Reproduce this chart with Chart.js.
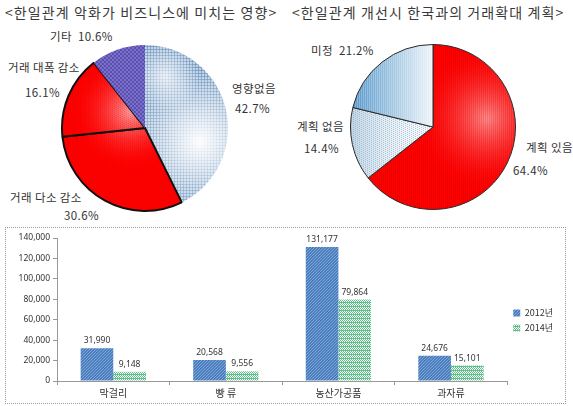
<!DOCTYPE html>
<html><head><meta charset="utf-8">
<script src="https://cdn.jsdelivr.net/npm/chart.js@4"></script>
<style>
html,body{margin:0;padding:0;background:#fff;width:573px;height:406px;overflow:hidden;font-family:"Noto Sans CJK KR","Noto Sans",sans-serif;}
.abs{position:absolute;white-space:pre;color:#333;}
.title{font-size:14px;color:#3a3a3a;line-height:16px;letter-spacing:1.1px;}
.lbl{font-size:11.5px;line-height:14px;letter-spacing:0.4px;}
canvas{position:absolute;}
#box{position:absolute;left:5px;top:227px;width:561px;height:177px;border:1px dotted #9a9a9a;box-sizing:border-box;}
</style></head><body>
<div id="labels"></div>
<canvas id="pie1"></canvas>
<canvas id="pie2"></canvas>
<div id="box"></div>
<canvas id="bar"></canvas>
<script>
// ---------- data ----------
const title1 = "<한일관계 악화가 비즈니스에 미치는 영향>";
const pie1Labels = ["영향없음", "거래 다소 감소", "거래 대폭 감소", "기타"];
const pie1Values = [42.7, 30.6, 16.1, 10.6];

const title2 = "<한일관계 개선시 한국과의 거래확대 계획>";
const pie2Labels = ["계획 있음", "계획 없음", "미정"];
const pie2Values = [64.4, 14.4, 21.2];

const barCategories = ["막걸리", "빵 류", "농산가공품", "과자류"];
const seriesNames = ["2012년", "2014년"];
const values2012 = [31990, 20568, 131177, 24676];
const values2014 = [9148, 9556, 79864, 15101];
const yTicks = [0, 20000, 40000, 60000, 80000, 100000, 120000, 140000];

// ---------- text layout ----------
const textItems = [
  {t: title1, x: 5, y: 4, cls: "title"},
  {t: title2, x: 292, y: 4, cls: "title"},
  {t: pie1Labels[3] + "  " + pie1Values[3].toFixed(1) + "%", x: 50, y: 29, cls: "lbl"},
  {t: pie1Labels[2], x: 8, y: 60, cls: "lbl"},
  {t: pie1Values[2].toFixed(1) + "%", x: 25, y: 85, cls: "lbl"},
  {t: pie1Labels[0], x: 232, y: 81, cls: "lbl"},
  {t: pie1Values[0].toFixed(1) + "%", x: 235, y: 101, cls: "lbl"},
  {t: pie1Labels[1], x: 10, y: 190, cls: "lbl"},
  {t: pie1Values[1].toFixed(1) + "%", x: 64, y: 208, cls: "lbl"},
  {t: pie2Labels[2] + "  " + pie2Values[2].toFixed(1) + "%", x: 311, y: 43, cls: "lbl"},
  {t: pie2Labels[1], x: 297, y: 119, cls: "lbl"},
  {t: pie2Values[1].toFixed(1) + "%", x: 304, y: 141, cls: "lbl"},
  {t: pie2Labels[0], x: 526, y: 140, cls: "lbl"},
  {t: pie2Values[0].toFixed(1) + "%", x: 513, y: 163, cls: "lbl"}
];
const lab = document.getElementById('labels');
textItems.forEach(it => {
  const d = document.createElement('div');
  d.className = 'abs ' + it.cls;
  d.style.left = it.x + 'px'; d.style.top = it.y + 'px';
  d.textContent = it.t;
  lab.appendChild(d);
});

// ---------- texture helpers ----------
function texture(w, h, draw) {
  const c = document.createElement('canvas');
  c.width = w; c.height = h;
  const x = c.getContext('2d');
  draw(x, w, h);
  return x.createPattern(c, 'no-repeat');
}
function tile(w, h, draw) {
  const c = document.createElement('canvas');
  c.width = w; c.height = h;
  const x = c.getContext('2d');
  draw(x, w, h);
  return x.createPattern(c, 'repeat');
}

// ---------- pie 1 ----------
const P1 = 170;
const c1 = document.getElementById('pie1');
c1.style.left = '60px'; c1.style.top = '43px';
c1.width = P1; c1.height = P1; c1.style.width = P1 + 'px'; c1.style.height = P1 + 'px';

const blueTex = texture(P1, P1, (x, w, h) => {
  x.fillStyle = '#bcd2e6'; x.fillRect(0, 0, w, h);
  for (let i = 0; i < w; i += 3) {
    x.fillStyle = 'rgba(80,120,170,0.5)'; x.fillRect(i, 0, 1, h);
    x.fillRect(0, i, w, 1);
  }
  const g = x.createRadialGradient(w * 0.82, h * 0.58, 2, w * 0.82, h * 0.58, w * 0.42);
  g.addColorStop(0, 'rgba(255,255,255,0.95)');
  g.addColorStop(1, 'rgba(255,255,255,0)');
  x.fillStyle = g; x.fillRect(0, 0, w, h);
  const g2 = x.createRadialGradient(w * 0.62, h * 0.2, 1, w * 0.62, h * 0.2, w * 0.2);
  g2.addColorStop(0, 'rgba(255,255,255,0.7)');
  g2.addColorStop(1, 'rgba(255,255,255,0)');
  x.fillStyle = g2; x.fillRect(0, 0, w, h);
});
const redTex1 = texture(P1, P1, (x, w, h) => {
  x.fillStyle = '#ff0000'; x.fillRect(0, 0, w, h);
  const g = x.createRadialGradient(w * 0.42, h * 0.4, 1, w * 0.42, h * 0.4, w * 0.35);
  g.addColorStop(0, 'rgba(255,170,170,0.9)');
  g.addColorStop(1, 'rgba(255,0,0,0)');
  x.fillStyle = g; x.fillRect(0, 0, w, h);
  x.fillStyle = 'rgba(180,0,0,0.18)';
  for (let i = 0; i < w; i += 2) for (let j = (i / 2) % 2 * 1; j < h; j += 2) x.fillRect(i, j, 1, 1);
});
const purpleTex = tile(4, 4, (x) => {
  x.fillStyle = '#5b4fae'; x.fillRect(0, 0, 4, 4);
  x.fillStyle = '#7b70cc'; x.fillRect(0, 0, 2, 2); x.fillRect(2, 2, 2, 2);
});

new Chart(c1, {
  type: 'pie',
  data: {
    labels: pie1Labels,
    datasets: [{
      data: pie1Values,
      backgroundColor: [blueTex, redTex1, redTex1, purpleTex],
      borderColor: ['rgba(0,0,0,0)', '#111', '#111', 'rgba(0,0,0,0)'],
      borderWidth: [0, 2, 2, 0]
    }]
  },
  options: {
    responsive: false, animation: false,
    layout: {padding: 1},
    plugins: {legend: {display: false}, tooltip: {enabled: false}}
  }
});

// ---------- pie 2 ----------
const P2 = 168;
const c2 = document.getElementById('pie2');
c2.style.left = '349px'; c2.style.top = '43px';
c2.width = P2; c2.height = P2; c2.style.width = P2 + 'px'; c2.style.height = P2 + 'px';

const redTex2 = texture(P2, P2, (x, w, h) => {
  x.fillStyle = '#ff0000'; x.fillRect(0, 0, w, h);
  const g = x.createRadialGradient(w * 0.82, h * 0.45, 2, w * 0.82, h * 0.45, w * 0.45);
  g.addColorStop(0, 'rgba(255,140,140,0.95)');
  g.addColorStop(1, 'rgba(255,0,0,0)');
  x.fillStyle = g; x.fillRect(0, 0, w, h);
  x.fillStyle = 'rgba(170,0,0,0.16)';
  for (let i = 0; i < w; i += 2) x.fillRect(i, 0, 1, h);
});
const paleTex = texture(P2, P2, (x, w, h) => {
  x.fillStyle = '#f4f8fb'; x.fillRect(0, 0, w, h);
  const g = x.createLinearGradient(0, 0, w * 0.55, 0);
  g.addColorStop(0, 'rgba(150,185,210,0.55)');
  g.addColorStop(1, 'rgba(255,255,255,0)');
  x.fillStyle = g; x.fillRect(0, 0, w, h);
  x.fillStyle = 'rgba(120,155,185,0.5)';
  for (let i = 0; i < w; i += 2) for (let j = (i % 4 === 0 ? 0 : 1); j < h; j += 2) x.fillRect(i, j, 1, 1);
});
const blueTex2 = texture(P2, P2, (x, w, h) => {
  const g = x.createLinearGradient(0, 0, w * 0.55, 0);
  g.addColorStop(0, '#4f93c8');
  g.addColorStop(1, '#ffffff');
  x.fillStyle = g; x.fillRect(0, 0, w, h);
  x.fillStyle = 'rgba(255,255,255,0.25)';
  for (let i = 0; i < w; i += 2) x.fillRect(i, 0, 1, h);
});

new Chart(c2, {
  type: 'pie',
  data: {
    labels: pie2Labels,
    datasets: [{
      data: pie2Values,
      backgroundColor: [redTex2, paleTex, blueTex2],
      borderColor: '#2a2a2a',
      borderWidth: 1
    }]
  },
  options: {
    responsive: false, animation: false,
    layout: {padding: 1},
    plugins: {legend: {display: false}, tooltip: {enabled: false}}
  }
});

// ---------- bar chart ----------
const BW = 559, BH = 175;
const c3 = document.getElementById('bar');
c3.style.left = '6px'; c3.style.top = '228px';
c3.width = BW; c3.height = BH; c3.style.width = BW + 'px'; c3.style.height = BH + 'px';

const barBlue = tile(3, 3, (x) => {
  x.fillStyle = '#4a7ebd'; x.fillRect(0, 0, 3, 3);
  x.fillStyle = '#7ea6d6'; x.fillRect(0, 0, 1, 1); x.fillRect(2, 1, 1, 1); x.fillRect(1, 2, 1, 1);
});
const barGreen = tile(4, 4, (x) => {
  x.fillStyle = '#ffffff'; x.fillRect(0, 0, 4, 4);
  x.fillStyle = '#5fc08a';
  x.fillRect(0, 0, 1, 1); x.fillRect(2, 0, 1, 1); x.fillRect(1, 1, 1, 1); x.fillRect(3, 1, 1, 1);
  x.fillRect(0, 2, 4, 1); x.fillRect(1, 3, 1, 1); x.fillRect(3, 3, 1, 1);
});

const valueLabels = {
  id: 'valueLabels',
  afterDatasetsDraw(chart) {
    const ctx = chart.ctx;
    ctx.save();
    ctx.font = '8.5px "Noto Sans", sans-serif';
    ctx.fillStyle = '#333';
    ctx.textAlign = 'center';
    ctx.textBaseline = 'bottom';
    chart.data.datasets.forEach((ds, di) => {
      chart.getDatasetMeta(di).data.forEach((el, i) => {
        ctx.fillText(ds.data[i].toLocaleString('en-US'), el.x, el.y - 3);
      });
    });
    ctx.restore();
  }
};

new Chart(c3, {
  type: 'bar',
  data: {
    labels: barCategories,
    datasets: [
      {label: seriesNames[0], data: values2012, backgroundColor: barBlue, borderWidth: 0,
       barPercentage: 1.0, categoryPercentage: 0.58},
      {label: seriesNames[1], data: values2014, backgroundColor: barGreen, borderColor: '#8fd3ad', borderWidth: 0,
       barPercentage: 1.0, categoryPercentage: 0.58}
    ]
  },
  options: {
    responsive: false, animation: false,
    layout: {padding: {top: 10, right: 2, left: 0, bottom: 0}},
    plugins: {
      tooltip: {enabled: false},
      legend: {
        position: 'right',
        labels: {
          boxWidth: 7, boxHeight: 7, padding: 6,
          font: {size: 9, family: '"Noto Sans CJK KR", sans-serif'},
          color: '#333'
        }
      }
    },
    scales: {
      y: {
        min: 0, max: 140000,
        afterBuildTicks(scale) { scale.ticks = yTicks.map(v => ({value: v})); },
        afterFit(scale) { scale.width = 51; },
        border: {display: true, color: '#999'},
        grid: {display: true, drawOnChartArea: false, drawTicks: true, tickLength: 4, color: '#999'},
        ticks: {
          font: {size: 8.5, family: '"Noto Sans", sans-serif'}, color: '#333', padding: 3,
          callback: v => v.toLocaleString('en-US')
        }
      },
      x: {
        afterFit(scale) { scale.height = 22; },
        border: {display: true, color: '#999'},
        grid: {display: true, drawOnChartArea: false, drawTicks: true, tickLength: 4, color: '#999'},
        ticks: {font: {size: 10, family: '"Noto Sans CJK KR", sans-serif'}, color: '#333', padding: 2}
      }
    }
  },
  plugins: [valueLabels]
});
</script>
</body></html>
